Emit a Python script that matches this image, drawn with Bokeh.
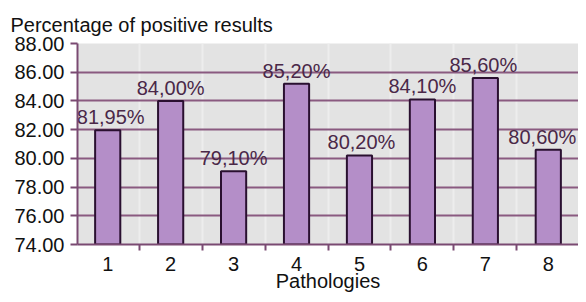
from bokeh.plotting import figure
from bokeh.models import FixedTicker, NumeralTickFormatter, ColumnDataSource, Range1d
from bokeh.core.properties import value
from bokeh.embed import file_html
from bokeh.resources import INLINE

pathologies = [1, 2, 3, 4, 5, 6, 7, 8]
percentages = [81.95, 84.00, 79.10, 85.20, 80.20, 84.10, 85.60, 80.60]
labels = ["81,95%", "84,00%", "79,10%", "85,20%", "80,20%", "84,10%", "85,60%", "80,60%"]
label_shift = [3, 0, 0, 0, 2, 0, -2, -6]
y_ticks = [74, 76, 78, 80, 82, 84, 86, 88]

src = ColumnDataSource(dict(x=pathologies, top=percentages, label=labels, dx=label_shift))

FONT = "Liberation Sans"
p = figure(width=578, height=294, output_backend="svg", toolbar_location=None,
           x_range=Range1d(0.52, 8.48), y_range=Range1d(74, 88),
           min_border_left=77, min_border_right=0, min_border_top=43, min_border_bottom=46,
           title="Percentage of positive results")
p.title.text_font = FONT
p.title.text_font_size = "20px"
p.title.text_font_style = "normal"
p.title.text_color = "#111111"
p.title.offset = -67
p.title.standoff = 16

p.background_fill_color = "#e3e3e3"
p.border_fill_color = "white"
p.outline_line_color = None

p.vbar(x="x", top="top", bottom=74, width=0.4, source=src,
       fill_color="#b48ec8", line_color="#2a1030", line_width=2)

p.text(x="x", y="top", text="label", source=src, text_align="center",
       text_baseline="alphabetic", y_offset=-13, x_offset="dx",
       text_font=value(FONT), text_font_size="20px", text_color="#4a2848")

p.yaxis.ticker = FixedTicker(ticks=y_ticks)
p.yaxis.formatter = NumeralTickFormatter(format="0.00")
p.yaxis.major_label_text_font = FONT
p.yaxis.major_label_text_font_size = "20px"
p.yaxis.major_label_text_color = "#111111"
p.yaxis.axis_line_color = "#7a4a72"
p.yaxis.axis_line_width = 2
p.yaxis.major_tick_line_color = "#7a4a72"
p.yaxis.major_tick_line_width = 2
p.yaxis.major_tick_out = 7
p.yaxis.major_tick_in = 0
p.yaxis.minor_tick_line_color = None
p.yaxis.major_label_standoff = 6

p.xaxis.ticker = FixedTicker(ticks=pathologies, minor_ticks=[1.5, 2.5, 3.5, 4.5, 5.5, 6.5, 7.5])
p.xaxis.major_tick_line_color = None
p.xaxis.major_tick_out = 6
p.xaxis.minor_tick_line_color = "#7a4a72"
p.xaxis.minor_tick_line_width = 2
p.xaxis.minor_tick_out = 6
p.xaxis.minor_tick_in = 0
p.xaxis.axis_line_color = "#7a4a72"
p.xaxis.axis_line_width = 2
p.xaxis.major_label_text_font = FONT
p.xaxis.major_label_text_font_size = "20px"
p.xaxis.major_label_text_color = "#111111"
p.xaxis.major_label_standoff = 6
p.xaxis.axis_label = "Pathologies"
p.xaxis.axis_label_text_font = FONT
p.xaxis.axis_label_text_font_size = "20px"
p.xaxis.axis_label_text_font_style = "normal"
p.xaxis.axis_label_text_color = "#111111"
p.xaxis.axis_label_text_line_height = 0.9
p.xaxis.axis_label_standoff = -4

p.ygrid.ticker = FixedTicker(ticks=y_ticks)
p.ygrid.grid_line_color = "#8a5a80"
p.ygrid.grid_line_width = 2
p.xgrid.grid_line_color = None
p.xgrid.minor_grid_line_color = "#ededed"
p.xgrid.minor_grid_line_width = 2

open("out.html", "w").write(file_html(p, INLINE))
